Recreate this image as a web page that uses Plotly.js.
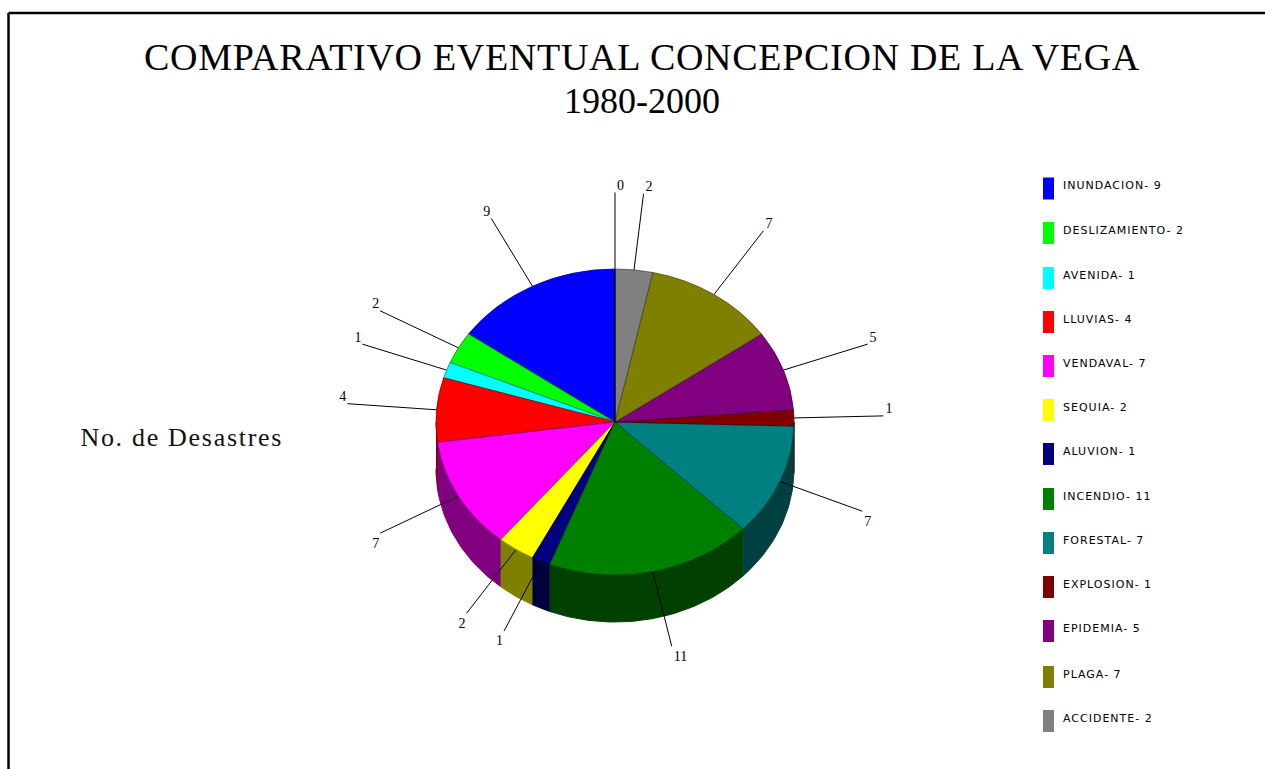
<!DOCTYPE html>
<html>
<head>
<meta charset="utf-8">
<script src="https://cdn.plot.ly/plotly-3.0.1.min.js"></script>
<style>
html,body{margin:0;padding:0;background:#fff;overflow:hidden}
#chart{width:1265px;height:769px}
</style>
</head>
<body>
<div id="chart"></div>
<script>
const categories = ["INUNDACION","DESLIZAMIENTO","AVENIDA","LLUVIAS","VENDAVAL","SEQUIA","ALUVION","INCENDIO","FORESTAL","EXPLOSION","EPIDEMIA","PLAGA","ACCIDENTE",""];
const values = [9,2,1,4,7,2,1,11,7,1,5,7,2,0];
const topColors = ["#0000ff","#00ff00","#00ffff","#ff0000","#ff00ff","#ffff00","#000080","#008000","#008080","#800000","#800080","#808000","#808080","#000000"];
const sideColors = ["#000080","#008000","#008080","#800000","#800080","#808000","#000040","#004000","#004040","#400000","#400040","#404000","#404040","#000000"];
const legendRows = [188.5,233,278,322,366,410,454,499,543,587,631,677,721];

const CX = 615, CY = 422, RX = 179, RY = 153, DEPTH = 47, LEAD = 1.5;
const total = values.reduce((a,b)=>a+b,0);
const px = a => CX - RX*Math.sin(a);
const py = a => CY - RY*Math.cos(a);

const traces = [];
let cum = 0;
const lineX = [], lineY = [], numX = [], numY = [], numText = [], numPos = [];
values.forEach((v,i)=>{
  const a0 = cum/total*2*Math.PI, a1 = (cum+v)/total*2*Math.PI, mid = (a0+a1)/2;
  cum += v;
  const s = Math.max(a0, Math.PI/2), e = Math.min(a1, 1.5*Math.PI);
  if (e > s) {
    const tx=[], ty=[];
    const n = Math.max(2, Math.ceil((e-s)/0.02));
    for (let k=0;k<=n;k++){const a=s+(e-s)*k/n; tx.push(px(a)); ty.push(py(a));}
    for (let k=n;k>=0;k--){const a=s+(e-s)*k/n; tx.push(px(a)); ty.push(py(a)+DEPTH);}
    traces.push({type:"scatter",mode:"lines",x:tx,y:ty,fill:"toself",fillcolor:sideColors[i],
      line:{color:sideColors[i],width:1},hoverinfo:"skip",showlegend:false});
  }
  const ex = CX + LEAD*(px(mid)-CX), ey = CY + LEAD*(py(mid)-CY);
  lineX.push(px(mid),ex,null); lineY.push(py(mid),ey,null);
  const upper = Math.cos(mid)>=0, leftSide = Math.sin(mid)>0.0001;
  numX.push(ex+(leftSide?-1:2)); numY.push(ey+(upper?1:4)); numText.push(String(v));
  numPos.push((upper?"top ":"bottom ")+(leftSide?"left":"right"));
});
traces.push({type:"scatter",mode:"lines",x:lineX,y:lineY,line:{color:"#000",width:1},hoverinfo:"skip",showlegend:false});
traces.push({type:"scatter",mode:"text",x:numX,y:numY,text:numText,textposition:numPos,
  textfont:{family:"Liberation Serif",size:14,color:"#000"},hoverinfo:"skip",showlegend:false});
const legendCats = categories.slice(0,13);
traces.push({type:"scatter",mode:"text",x:legendRows.map(()=>1063),y:legendRows.map(v=>v-2),
  text:legendCats.map((c,i)=>c+"- "+values[i]),textposition:"middle right",
  textfont:{family:"DejaVu Sans",size:11,color:"#000"},hoverinfo:"skip",showlegend:false});
traces.push({type:"pie",labels:categories,values:values,sort:false,direction:"counterclockwise",
  rotation:-360*values[0]/total,
  marker:{colors:topColors,line:{color:sideColors,width:0.8}},textinfo:"none",hoverinfo:"label+value",showlegend:false,
  domain:{x:[(CX-RX)/1265,(CX+RX)/1265],y:[1-(CY+RX)/769,1-(CY-RX)/769]}});

const shapes = legendRows.map((y,i)=>({type:"rect",xref:"x",yref:"y",x0:1043,x1:1054,y0:y-11,y1:y+11,
  fillcolor:topColors[i],line:{width:0}}));
shapes.push({type:"line",xref:"x",yref:"y",x0:8.5,x1:1265,y0:13,y1:13,line:{color:"#000",width:2.5}});
shapes.push({type:"line",xref:"x",yref:"y",x0:8.5,x1:8.5,y0:13,y1:769,line:{color:"#000",width:2.5}});

const layout = {
  width:1265,height:769,margin:{l:0,r:0,t:0,b:0,pad:0},paper_bgcolor:"#fff",plot_bgcolor:"#fff",
  showlegend:false,
  title:{text:"COMPARATIVO EVENTUAL CONCEPCION DE LA VEGA<br>1980-2000",
    font:{family:"Liberation Serif",size:38,color:"#000"},x:642/1265,xanchor:"center",y:1-70/769,yanchor:"top"},
  xaxis:{range:[0,1265],visible:false,fixedrange:true},
  yaxis:{range:[769,0],visible:false,fixedrange:true},
  shapes:shapes,
  annotations:[{xref:"x",yref:"y",x:92,y:437,xanchor:"left",yanchor:"middle",showarrow:false,
    text:"No. de Desastres",font:{family:"Liberation Serif",size:26,color:"#111"}}]
};
Plotly.newPlot("chart",traces,layout,{displayModeBar:false}).then(gd=>{
  const g = gd.querySelector(".pielayer .trace");
  if (g) g.setAttribute("transform",`translate(${CX},${CY}) scale(1,${RY/RX}) translate(${-CX},${-CY})`);
  const lines = gd.querySelectorAll(".gtitle tspan.line");
  if (lines.length > 1) {
    lines[0].setAttribute("letter-spacing","0.7");
    lines[1].setAttribute("dy","43px");
    lines[1].setAttribute("font-size","36px");
    lines[1].style.fontSize = "36px";
  }
  gd.querySelectorAll(".textpoint text").forEach(t=>{
    if (t.textContent.indexOf("- ")>=0) t.setAttribute("letter-spacing","1");
  });
  gd.querySelectorAll(".annotation-text").forEach(t=>t.setAttribute("letter-spacing","1.7"));
});
</script>
</body>
</html>
